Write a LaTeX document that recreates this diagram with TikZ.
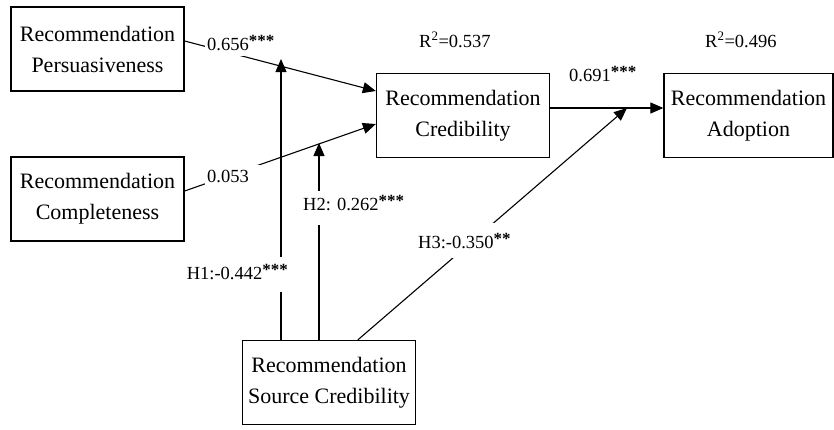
\documentclass[tikz,border=0pt]{standalone}
\usepackage{fontspec}
\setmainfont{Liberation Serif}
\usetikzlibrary{arrows.meta,calc}
\newcommand{\sigstars}[1]{\raisebox{3.5pt}{\fontsize{17}{17}\selectfont\bfseries #1}}
\begin{document}
\begin{tikzpicture}[x=1pt,y=-1pt,
  box/.style={draw, line width=1.3pt, minimum width=173pt, minimum height=84pt, inner sep=0pt, align=center, font=\fontsize{22}{31}\selectfont},
  conn/.style={line width=1.1pt, -{Triangle[length=13pt,width=11pt]}},
  lab/.style={fill=white, inner xsep=2pt, inner ysep=0pt, font=\fontsize{18.5}{20}\selectfont},
  rlab/.style={inner sep=0pt, font=\fontsize{18.5}{20}\selectfont}]
\useasboundingbox (0,0) rectangle (834,429);

\node[box] (pers) at (97.5,49) {Recommendation\\Persuasiveness};
\node[box] (comp) at (97.5,199) {Recommendation\\Completeness};
\node[box] (cred) at (463,115.5) {Recommendation\\Credibility};
\node[box, minimum width=169pt] (adopt) at (748.5,115.5) {Recommendation\\Adoption};
\node[box] (src) at (329,382.5) {Recommendation\\Source Credibility};

\coordinate (h1end) at (281,59);
\coordinate (h2end) at (319,143);
\coordinate (h3end) at (627,108);

\draw[conn] ($(pers.east)+(0,-8)$) -- ($(cred.west)+(0,-24.5)$);
\draw[conn] ($(comp.east)+(0,-8)$) -- ($(cred.west)+(0,8.5)$);
\draw[conn] ($(cred.east)+(0,-7.5)$) -- ($(adopt.west)+(0,-7.5)$);
\draw[conn] (h1end |- src.north) -- (h1end);
\draw[conn] (h2end |- src.north) -- (h2end);
\draw[conn] ($(src.north west)+(116,0)$) -- (h3end);

\node[lab, anchor=base west, text depth=6pt] (l656) at (205,50) {0.656\sigstars{***}};
\node[lab, anchor=base west, text width=51pt, align=left, text height=17pt, text depth=3pt] (l053) at (205,182) {0.053};
\node[lab, anchor=base east, text height=22pt, text depth=13pt] (lh1) at (290,279) {H1:-0.442\sigstars{***}};
\node[lab, anchor=base west, text height=19pt, text depth=15pt] (lh2) at (301,210) {H2: 0.262\sigstars{***}};
\node[lab, anchor=base west, text height=25pt, text depth=10pt] (lh3) at (416,248) {H3:-0.350\sigstars{**}};
\node[rlab, anchor=base west] (l691) at (569,81) {0.691\sigstars{***}};
\node[rlab, anchor=base west] (r1) at (419,47) {R\textsuperscript{2}=0.537};
\node[rlab, anchor=base west] (r2) at (705,47) {R\textsuperscript{2}=0.496};
\end{tikzpicture}
\end{document}
